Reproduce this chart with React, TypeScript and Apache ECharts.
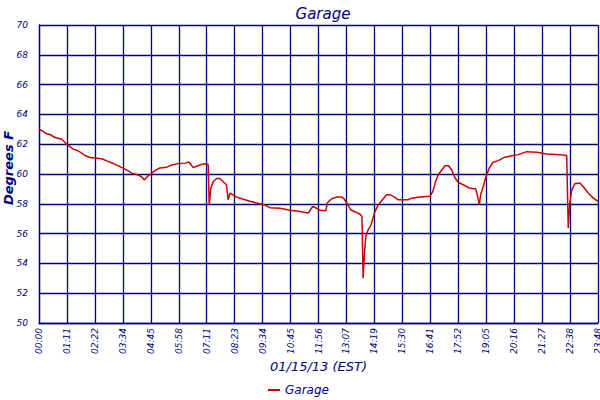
import React, { useEffect, useRef } from "react";
import * as echarts from "echarts";

const tickLabels = [
  "00:00", "01:11", "02:22", "03:34", "04:45", "05:58", "07:11", "08:23", "09:34", "10:45",
  "11:56", "13:07", "14:19", "15:30", "16:41", "17:52", "19:05", "20:16", "21:27", "22:38", "23:48",
];

// minutes after midnight
const minutes = [
  0, 8, 20, 28, 41, 58, 66, 72, 79, 88, 100, 109, 118, 130, 160, 173, 190, 207, 220, 237,
  254, 264, 269, 279, 288, 296, 309, 326, 339, 352, 373, 383, 394, 407, 420, 432, 435, 439, 445, 454,
  462, 471, 479, 483, 488, 496, 505, 522, 539, 556, 577, 590, 616, 641, 662, 688, 699, 708, 718, 733,
  736, 748, 760, 773, 779, 788, 796, 807, 820, 825, 828, 832, 835, 841, 847, 852, 858, 867, 875, 888,
  897, 905, 918, 943, 952, 973, 999, 1006, 1012, 1020, 1026, 1037, 1046, 1054, 1063, 1071, 1084, 1099, 1116, 1125,
  1128, 1135, 1142, 1150, 1159, 1173, 1190, 1208, 1224, 1246, 1271, 1297, 1331, 1348, 1352, 1356, 1361, 1369, 1382, 1390,
  1403, 1416, 1428,
];

// degrees F
const garage = [
  63.0, 62.9, 62.7, 62.65, 62.45, 62.33, 62.13, 62.0, 61.84, 61.66, 61.55, 61.4, 61.24, 61.1, 61.02, 60.88, 60.7, 60.5, 60.33, 60.06,
  59.93, 59.77, 59.6, 59.88, 60.06, 60.23, 60.4, 60.46, 60.6, 60.68, 60.73, 60.8, 60.43, 60.57, 60.68, 60.65, 57.9, 59.05, 59.5, 59.7,
  59.7, 59.46, 59.28, 58.27, 58.72, 58.6, 58.45, 58.3, 58.17, 58.05, 57.92, 57.74, 57.7, 57.56, 57.5, 57.38, 57.82, 57.72, 57.56, 57.54,
  58.05, 58.34, 58.45, 58.45, 58.34, 58.0, 57.6, 57.47, 57.3, 57.15, 53.0, 54.9, 55.8, 56.27, 56.5, 56.93, 57.47, 57.94, 58.2, 58.6,
  58.6, 58.5, 58.27, 58.27, 58.38, 58.45, 58.5, 58.83, 59.39, 59.95, 60.17, 60.55, 60.55, 60.28, 59.73, 59.43, 59.28, 59.06, 58.99, 57.94,
  58.6, 59.16, 59.83, 60.39, 60.77, 60.9, 61.13, 61.22, 61.3, 61.5, 61.46, 61.35, 61.3, 61.24, 56.38, 58.05, 58.94, 59.35, 59.39, 59.16,
  58.72, 58.38, 58.16,
];

const NAVY = "#000080";
const FONT = "DejaVu Sans";

export default function App() {
  const ref = useRef<HTMLDivElement>(null);
  useEffect(() => {
    if (!ref.current) return;
    const chart = echarts.init(ref.current, null, { renderer: "svg" });
    const step = 1428 / 20;
    chart.setOption({
      animation: false,
      backgroundColor: "#ffffff",
      title: {
        text: "Garage",
        left: 318,
        top: 1,
        textAlign: "center",
        textStyle: { color: NAVY, fontFamily: FONT, fontStyle: "italic", fontWeight: "normal", fontSize: 15 },
      },
      legend: {
        top: 384,
        left: 268,
        icon: "rect",
        itemWidth: 12,
        itemHeight: 2,
        itemGap: 4,
        padding: 0,
        textStyle: { color: NAVY, fontFamily: FONT, fontStyle: "italic", fontSize: 12, padding: [0, 0, 0, 0] },
        data: ["Garage"],
      },
      grid: { left: 39, right: 2, top: 25, bottom: 77, containLabel: false, outerBoundsMode: "none" },
      xAxis: {
        type: "value",
        min: 0,
        max: 1428,
        interval: step,
        name: "01/15/13 (EST)",
        nameLocation: "middle",
        nameGap: 37,
        nameMoveOverlap: false,
        nameTextStyle: { color: NAVY, fontFamily: FONT, fontStyle: "italic", fontSize: 13, verticalAlign: "top" },
        axisLine: { show: true, lineStyle: { color: NAVY, width: 1.3 } },
        axisTick: { show: false },
        axisLabel: {
          rotate: 90,
          color: NAVY,
          fontFamily: FONT,
          fontStyle: "italic",
          fontSize: 9,
          margin: 5,
          showMaxLabel: true,
          showMinLabel: true,
          formatter: (v: number) => tickLabels[Math.round(v / step)] ?? "",
        },
        splitLine: { show: true, lineStyle: { color: NAVY, width: 1.3 } },
      },
      yAxis: {
        type: "value",
        min: 50,
        max: 70,
        interval: 2,
        name: "Degrees F",
        nameLocation: "middle",
        nameGap: 24,
        nameMoveOverlap: false,
        nameTextStyle: { color: NAVY, fontFamily: FONT, fontStyle: "italic", fontWeight: "bold", fontSize: 13, padding: [0, 0, 0, 12] },
        axisLine: { show: true, lineStyle: { color: NAVY, width: 1.3 } },
        axisTick: { show: false },
        axisLabel: { color: NAVY, fontFamily: FONT, fontStyle: "italic", fontSize: 9, margin: 11 },
        splitLine: { show: true, lineStyle: { color: NAVY, width: 1.3 } },
      },
      series: [
        {
          name: "Garage",
          type: "line",
          showSymbol: false,
          symbol: "none",
          color: "#cc0000",
          lineStyle: { color: "#cc0000", width: 1.5 },
          data: minutes.map((m, i) => [m, garage[i]]),
        },
      ],
    });
    return () => chart.dispose();
  }, []);
  return (
    <div
      ref={ref}
      style={{ position: "fixed", left: 0, top: 0, width: 600, height: 400, background: "#fff" }}
    />
  );
}
